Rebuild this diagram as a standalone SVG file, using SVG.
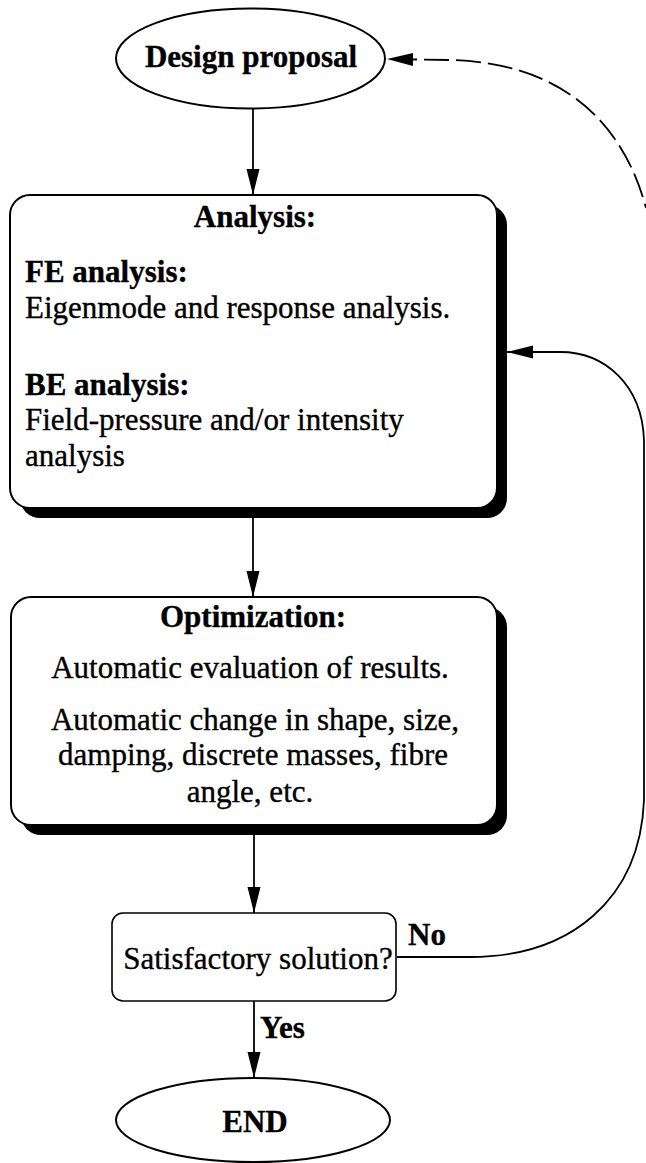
<svg xmlns="http://www.w3.org/2000/svg" width="646" height="1163" viewBox="0 0 646 1163">
<style>
text{font-family:"Liberation Serif","Times New Roman",serif;font-size:31px;fill:#000;stroke:#000;stroke-width:0.35}
.b{font-weight:bold}
.c{text-anchor:middle}
.shape{fill:#fff;stroke:#000;stroke-width:2}
.shadow{fill:#000;stroke:none}
.line{fill:none;stroke:#000;stroke-width:1.8}
.dash{fill:none;stroke:#000;stroke-width:1.8;stroke-dasharray:25 7;stroke-dashoffset:27}
</style>
<defs>
<marker id="ah" markerUnits="userSpaceOnUse" markerWidth="27" markerHeight="14" refX="26" refY="6.5" orient="auto-start-reverse">
<path d="M0,0 L26,6.5 L0,13 Z" fill="#000"/>
</marker>
</defs>
<g id="connectors">
<path class="line" d="M253 109 L253 195" marker-end="url(#ah)"/>
<path class="line" d="M253 518 L253 597" marker-end="url(#ah)"/>
<path class="line" d="M254 835 L254 913" marker-end="url(#ah)"/>
<path class="line" d="M254 1001 L254 1078" marker-end="url(#ah)"/>
<path class="line" d="M397 957 L470 957 C570 957 640 900 644 800 L644 440 C642 385 605 352 560 352 L507 352" marker-end="url(#ah)"/>
<path class="dash" d="M387 59 L450 60 C537 62 617 100 646 208" marker-start="url(#ah)"/>
<text class="b" x="408" y="945">No</text>
<text class="b" x="260" y="1038">Yes</text>
</g>
<g id="design">
<ellipse class="shape" cx="250.5" cy="58.5" rx="134.5" ry="50"/>
<text class="b c" x="251" y="67">Design proposal</text>
</g>
<g id="analysis">
<rect class="shadow" x="20" y="205" width="487" height="313" rx="20"/>
<rect class="shape" x="10" y="195" width="487" height="313" rx="20"/>
<text class="b c" x="255" y="227">Analysis:</text>
<text class="b" x="25" y="282">FE analysis:</text>
<text x="25" y="318">Eigenmode and response analysis.</text>
<text class="b" x="25" y="395">BE analysis:</text>
<text x="25" y="430">Field-pressure and/or intensity</text>
<text x="25" y="466">analysis</text>
</g>
<g id="optimization">
<rect class="shadow" x="21" y="607" width="486" height="228" rx="20"/>
<rect class="shape" x="11" y="597" width="486" height="228" rx="20"/>
<text class="b c" x="253" y="627">Optimization:</text>
<text class="c" x="250" y="678">Automatic evaluation of results.</text>
<text class="c" x="255" y="730">Automatic change in shape, size,</text>
<text class="c" x="253" y="765">damping, discrete masses, fibre</text>
<text class="c" x="250" y="802">angle, etc.</text>
</g>
<g id="decision">
<rect class="shape" x="112" y="913" width="284" height="88" rx="11" style="stroke-width:1.6"/>
<text class="c" x="258" y="969">Satisfactory solution?</text>
</g>
<g id="end">
<ellipse class="shape" cx="253" cy="1120" rx="137" ry="42"/>
<text class="b c" x="255" y="1132">END</text>
</g>
</svg>
